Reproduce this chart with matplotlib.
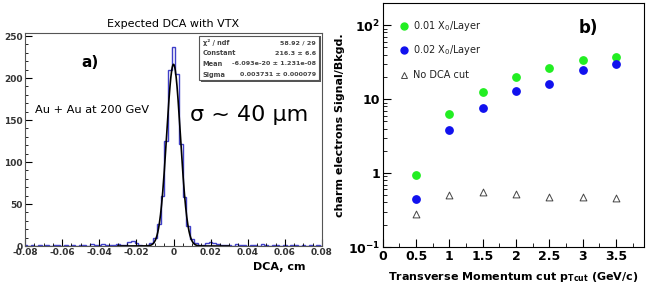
import numpy as np
import matplotlib
matplotlib.use("Agg")
import matplotlib.pyplot as plt
from matplotlib.patches import Rectangle
from matplotlib.ticker import MultipleLocator, FixedLocator, NullFormatter

#### DATA ####
## panel a) : DCA histogram (bin centres in cm, counts)
dcaCentres = np.round(np.arange(-0.080, 0.0801, 0.002), 3)
dcaCounts = [1, 0, 1, 0, 1, 0, 1, 0, 1, 1, 0, 1, 0, 1, 0, 1, 1, 0, 2, 1,   # -0.080 .. -0.042
             1, 2, 1, 1, 1, 2, 1, 1, 5, 6,                                  # -0.040 .. -0.022
             3, 1, 0, 1, 3, 9, 26, 60, 125, 210,                            # -0.020 .. -0.002
             237,                                                           # 0
             205, 122, 58, 24, 8, 3, 1, 1, 3, 5,                            # 0.002 .. 0.020
             4, 2, 1, 1, 1, 0, 2, 1, 1, 0,                                  # 0.022 .. 0.040
             1, 1, 0, 2, 1, 0, 1, 1, 0, 1, 0, 1, 1, 0, 1, 0, 1, 0, 1, 0]    # 0.042 .. 0.080
## fit parameters from the stats box
fitConstant = 216.3
fitMean = 0.0
fitSigma = 0.003731
statsNames = ["\u03c7\u00b2 / ndf", "Constant", "Mean", "Sigma"]
statsValues = ["58.92 / 29", "216.3 \u00b1 6.6", "-6.093e-20 \u00b1 1.231e-08", "0.003731 \u00b1 0.000079"]

## panel b) : signal/background vs pT cut
ptCut = [0.5, 1.0, 1.5, 2.0, 2.5, 3.0, 3.5]
sbThin = [0.93, 6.3, 12.5, 20.0, 26.0, 34.0, 37.5]
sbThick = [0.45, 3.8, 7.6, 13.0, 16.0, 25.0, 30.0]
sbNoCut = [0.28, 0.51, 0.55, 0.52, 0.48, 0.48, 0.46]

#### FIGURE ####
fig = plt.figure(figsize=(6.48, 2.91), dpi=100)

## ---- panel a ----
axA = fig.add_axes([0.0386, 0.1546, 0.4583, 0.732])
edges = np.append(dcaCentres - 0.001, dcaCentres[-1] + 0.001)
axA.stairs(dcaCounts, edges, color="#4040c8", lw=1.0)
xx = np.linspace(-0.03, 0.03, 400)
axA.plot(xx, fitConstant * np.exp(-0.5 * ((xx - fitMean) / fitSigma) ** 2), color="black", lw=1.2)
axA.set_xlim(-0.08, 0.08)
axA.set_ylim(0, 253.6)
axA.xaxis.set_minor_locator(MultipleLocator(0.005))
axA.yaxis.set_major_locator(MultipleLocator(50))
axA.yaxis.set_minor_locator(MultipleLocator(10))
axA.set_xticks(np.arange(-0.08, 0.081, 0.02))
axA.set_xticklabels(["-0.08", "-0.06", "-0.04", "-0.02", "0", "0.02", "0.04", "0.06", "0.08"])
axA.tick_params(which="both", direction="in", top=False, right=False, labelsize=6.5, pad=1.5)
axA.tick_params(which="major", length=5)
axA.tick_params(which="minor", length=2.5)
for lab in axA.get_xticklabels() + axA.get_yticklabels():
    lab.set_fontweight("bold")
    lab.set_color("#333333")
for sp in axA.spines.values():
    sp.set_color("#555555")
axA.set_title("Expected DCA with VTX", fontsize=8, pad=4)
axA.set_xlabel("DCA, cm", fontsize=8, fontweight="bold", loc="right", labelpad=6)
axA.xaxis.set_label_coords(0.945, -0.075)
axA.text(0.19, 0.84, "a)", transform=axA.transAxes, fontsize=11, fontweight="bold")
axA.text(0.035, 0.625, "Au + Au at 200 GeV", transform=axA.transAxes, fontsize=8.2)
axA.text(0.555, 0.585, "\u03c3 ~ 40 \u03bcm", transform=axA.transAxes, fontsize=16)

## stats box
axA.add_patch(Rectangle((0.592, 0.772), 0.405, 0.212, transform=axA.transAxes,
                        facecolor="#555555", edgecolor="none", zorder=4))
axA.add_patch(Rectangle((0.586, 0.779), 0.405, 0.207, transform=axA.transAxes,
                        facecolor="white", edgecolor="#555555", lw=0.8, zorder=5))
for i in range(len(statsNames)):
    yy = 0.955 - i * 0.05
    axA.text(0.598, yy, statsNames[i], transform=axA.transAxes, fontsize=4.8,
             fontweight="bold", color="#444444", va="center", zorder=6)
    axA.text(0.98, yy, statsValues[i], transform=axA.transAxes, fontsize=4.6,
             fontweight="bold", color="#444444", va="center", ha="right", zorder=6)

## ---- panel b ----
axB = fig.add_axes([0.5906, 0.1512, 0.4032, 0.8385])
axB.scatter(ptCut, sbThin, s=28, color="#22ee22", zorder=3)
axB.scatter(ptCut, sbThick, s=28, color="#1111ee", zorder=3)
axB.scatter(ptCut, sbNoCut, s=24, marker="^", facecolor="white", edgecolor="#444444", lw=0.7, zorder=3)
axB.set_yscale("log")
axB.set_xlim(0, 3.92)
axB.set_ylim(0.1, 200)
axB.xaxis.set_minor_locator(MultipleLocator(0.25))
axB.set_xticks([0, 0.5, 1, 1.5, 2, 2.5, 3, 3.5])
axB.set_xticklabels(["0", "0.5", "1", "1.5", "2", "2.5", "3", "3.5"])
axB.set_yticks([0.1, 1, 10, 100])
axB.set_yticklabels(["10$^{\\mathbf{-1}}$", "1", "10", "10$^{\\mathbf{2}}$"])
minors = []
for dec in [0.1, 1, 10, 100]:
    for k in range(2, 10):
        minors.append(dec * k)
axB.yaxis.set_minor_locator(FixedLocator(minors))
axB.yaxis.set_minor_formatter(NullFormatter())
axB.tick_params(which="both", direction="in", top=False, right=False, labelsize=9, pad=2)
axB.tick_params(which="major", length=6)
axB.tick_params(which="minor", length=3)
for lab in axB.get_xticklabels() + axB.get_yticklabels():
    lab.set_fontweight("bold")
axB.set_ylabel("charm electrons Signal/Bkgd.", fontsize=8, fontweight="bold", labelpad=2)
axB.set_xlabel("Transverse Momentum cut p$_{\\mathbf{Tcut}}$ (GeV/c)", fontsize=8,
               fontweight="bold", labelpad=5)
axB.text(0.75, 0.875, "b)", transform=axB.transAxes, fontsize=12, fontweight="bold")

## legend (drawn by hand, ROOT style)
legY = [0.906, 0.807, 0.705]
legTxt = ["0.01 X$_0$/Layer", "0.02 X$_0$/Layer", "No DCA cut"]
axB.plot([0.082], [legY[0]], "o", ms=5, color="#22ee22", transform=axB.transAxes)
axB.plot([0.082], [legY[1]], "o", ms=5, color="#1111ee", transform=axB.transAxes)
axB.plot([0.082], [legY[2]], "^", ms=5, mfc="white", mec="#444444", mew=0.7, transform=axB.transAxes)
for i in range(3):
    axB.text(0.115, legY[i], legTxt[i], transform=axB.transAxes, fontsize=7,
             va="center", color="#222222")

fig.savefig("out.png", dpi=100)
